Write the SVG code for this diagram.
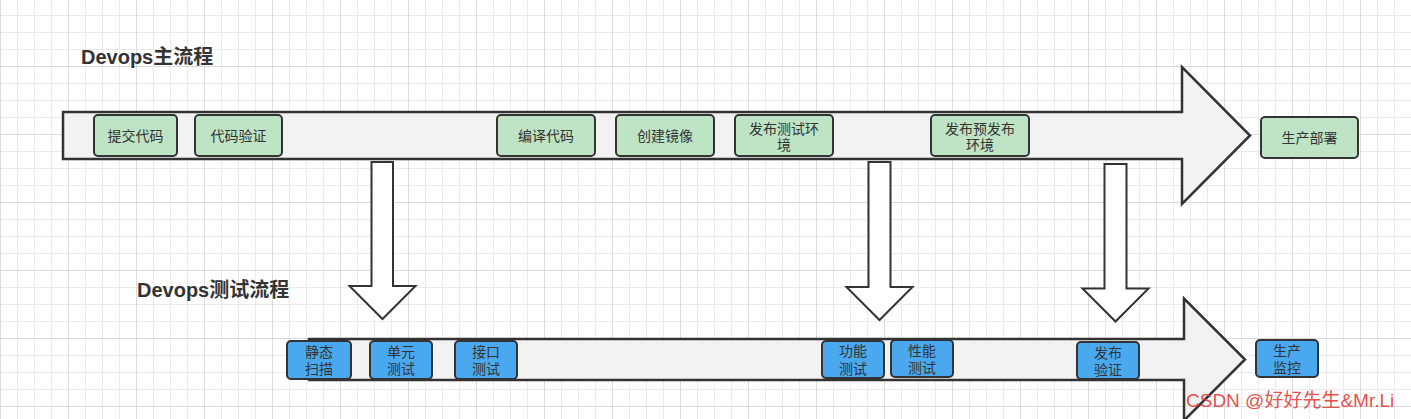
<svg xmlns="http://www.w3.org/2000/svg" width="1411" height="419" viewBox="0 0 1411 419">
<defs>
<pattern id="minor" width="17" height="17" patternUnits="userSpaceOnUse" x="0" y="-2">
<path d="M0 0.5H17M0.5 0V17" fill="none" stroke="#ebebeb" stroke-width="1"/>
</pattern>
<pattern id="major" width="68" height="68" patternUnits="userSpaceOnUse" x="0" y="-2">
<path d="M0 0.5H68M0.5 0V68" fill="none" stroke="#dcdcdc" stroke-width="1"/>
</pattern>
<style>
.t{font-family:"Liberation Sans","Noto Sans CJK SC",sans-serif;fill:#333;}
.title{font-size:20px;font-weight:bold;}
.lbl{font-size:14px;text-anchor:middle;}
.g{fill:#bee3c5;stroke:#333;stroke-width:2;}
.b{fill:#4aa9ee;stroke:#333;stroke-width:2;}
.big{fill:#f2f2f2;stroke:#333;stroke-width:2.5;stroke-linejoin:miter;}
.down{fill:#fff;stroke:#333;stroke-width:2;stroke-linejoin:miter;}
</style>
</defs>
<rect width="1411" height="419" fill="#fff"/>
<rect width="1411" height="419" fill="url(#minor)"/>
<rect width="1411" height="419" fill="url(#major)"/>

<text class="t title" x="81" y="64">Devops主流程</text>
<text class="t title" x="137" y="297">Devops测试流程</text>

<g id="main-flow">
<polygon class="big" points="63,112 1182,112 1182,67 1250,135.5 1182,204 1182,159 63,159"/>
</g>
<g id="test-flow">
<polygon class="big" points="309,339 1184,339 1184,298.5 1245,359.5 1184,420.5 1184,380 309,380"/>
</g>

<g id="connectors">
<polygon class="down" points="371.5,162 393,162 393,286 415.5,286 382.5,319 349.5,286 371.5,286"/>
<polygon class="down" points="868.5,162 890.5,162 890.5,287 912.5,287 879.5,320 846.5,287 868.5,287"/>
<polygon class="down" points="1104.5,164 1126.5,164 1126.5,288.5 1148.5,288.5 1115.5,321.5 1082.5,288.5 1104.5,288.5"/>
</g>

<g id="n-commit"><rect class="g" x="94" y="115" width="83" height="41" rx="4"/><text class="t lbl" x="135.5" y="140.5">提交代码</text></g>
<g id="n-verify"><rect class="g" x="195" y="115" width="87" height="41" rx="4"/><text class="t lbl" x="238.5" y="140.5">代码验证</text></g>
<g id="n-compile"><rect class="g" x="497" y="115" width="98" height="41" rx="4"/><text class="t lbl" x="546" y="140.5">编译代码</text></g>
<g id="n-image"><rect class="g" x="616" y="115" width="98" height="41" rx="4"/><text class="t lbl" x="665" y="140.5">创建镜像</text></g>
<g id="n-testenv"><rect class="g" x="735" y="115" width="98" height="41" rx="4"/><text class="t lbl" x="784" y="134">发布测试环</text><text class="t lbl" x="784" y="150">境</text></g>
<g id="n-preenv"><rect class="g" x="931" y="115" width="98" height="41" rx="4"/><text class="t lbl" x="980" y="134">发布预发布</text><text class="t lbl" x="980" y="150">环境</text></g>
<g id="n-deploy"><rect class="g" x="1261" y="117" width="97" height="41" rx="4"/><text class="t lbl" x="1309.5" y="142.5">生产部署</text></g>

<g id="n-static"><rect class="b" x="287" y="341" width="64" height="38" rx="4"/><text class="t lbl" x="319" y="356.5">静态</text><text class="t lbl" x="319" y="374">扫描</text></g>
<g id="n-unit"><rect class="b" x="370" y="341" width="62" height="38" rx="4"/><text class="t lbl" x="401" y="356.5">单元</text><text class="t lbl" x="401" y="374">测试</text></g>
<g id="n-api"><rect class="b" x="455" y="341" width="62" height="38" rx="4"/><text class="t lbl" x="486" y="356.5">接口</text><text class="t lbl" x="486" y="374">测试</text></g>
<g id="n-func"><rect class="b" x="822" y="341" width="62" height="37" rx="4"/><text class="t lbl" x="853" y="356">功能</text><text class="t lbl" x="853" y="373.5">测试</text></g>
<g id="n-perf"><rect class="b" x="891" y="340" width="62" height="37" rx="4"/><text class="t lbl" x="922" y="355.5">性能</text><text class="t lbl" x="922" y="373">测试</text></g>
<g id="n-release"><rect class="b" x="1077" y="342" width="62" height="37" rx="4"/><text class="t lbl" x="1108" y="357.5">发布</text><text class="t lbl" x="1108" y="375">验证</text></g>
<g id="n-monitor"><rect class="b" x="1256" y="340" width="62" height="37" rx="4"/><text class="t lbl" x="1287" y="355.5">生产</text><text class="t lbl" x="1287" y="373">监控</text></g>

<text x="1186" y="407" font-family="'Liberation Sans','Noto Sans CJK SC',sans-serif" font-size="19" fill="#e23b36" fill-opacity="0.9">CSDN @好好先生&amp;Mr.Li</text>
</svg>
